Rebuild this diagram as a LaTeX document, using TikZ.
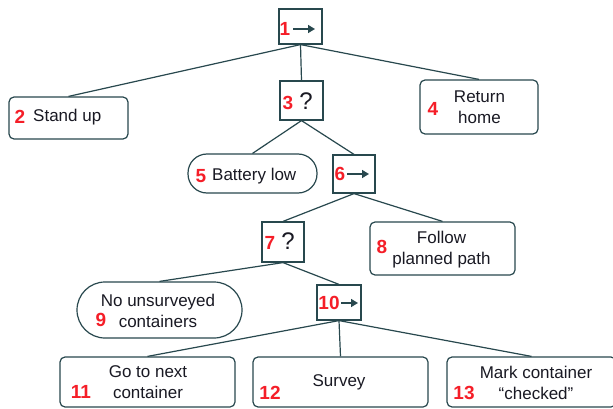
\documentclass[tikz,border=0pt]{standalone}
\usepackage{fontspec}
\setmainfont{Liberation Sans}
\usetikzlibrary{arrows.meta}
\definecolor{edgecol}{RGB}{40,72,78}
\definecolor{numred}{RGB}{245,30,40}
\definecolor{txtcol}{RGB}{25,25,35}
\begin{document}
\begin{tikzpicture}[x=1pt,y=-1pt,
  box/.style={draw=edgecol,line width=1.2pt,rounded corners=5pt,inner sep=0pt},
  ctl/.style={draw=edgecol,line width=1.2pt,inner sep=0pt},
  cond/.style={draw=edgecol,line width=1.2pt,rounded corners=19pt,inner sep=0pt},
  txt/.style={font=\fontsize{17}{21}\selectfont,align=center,inner sep=0pt,text=txtcol},
  num/.style={font=\fontsize{19}{21}\selectfont\bfseries,text=numred,inner sep=0pt},
  qm/.style={font=\fontsize{24}{24}\selectfont,inner sep=0pt,text=txtcol},
  link/.style={draw=edgecol,line width=1.2pt},
  seqarrow/.style={draw=edgecol,line width=1.5pt,-{Triangle[length=7pt,width=8pt]}}]
\path[fill=white] (0,0) rectangle (613,409);
\useasboundingbox (0,0) rectangle (613,409);

% boxes
\node[ctl,minimum width=43pt,minimum height=35pt] (n1) at (300.5,26.5) {};
\node[box,minimum width=119pt,minimum height=42pt] (n2) at (68.5,118) {};
\node[ctl,minimum width=43pt,minimum height=39pt] (n3) at (301.5,100.5) {};
\node[box,minimum width=118pt,minimum height=54pt] (n4) at (479,107) {};
\node[cond,minimum width=129pt,minimum height=39pt] (n5) at (252.5,173.5) {};
\node[ctl,minimum width=42pt,minimum height=38pt] (n6) at (354,174) {};
\node[ctl,minimum width=42pt,minimum height=40pt] (n7) at (283,242) {};
\node[box,minimum width=145pt,minimum height=53pt] (n8) at (442.5,248.5) {};
\node[cond,rounded corners=28pt,minimum width=165pt,minimum height=56pt] (n9) at (159.5,310) {};
\node[ctl,minimum width=44pt,minimum height=35pt] (n10) at (339,302.5) {};
\node[box,minimum width=175pt,minimum height=50pt] (n11) at (147.5,382) {};
\node[box,minimum width=175pt,minimum height=50pt] (n12) at (340.5,382) {};
\node[box,minimum width=169pt,minimum height=50pt] (n13) at (531.5,382) {};

% connectors
\draw[link] (n1.south) -- (n2.north);
\draw[link] (n1.south) -- (n3.north);
\draw[link] (n1.south) -- (n4.north);
\draw[link] (n3.south) -- (n5.north);
\draw[link] (n3.south) -- (n6.north);
\draw[link] (n6.south) -- (n7.north);
\draw[link] (n6.south) -- (n8.north);
\draw[link] (n7.south) -- (n9.north);
\draw[link] (n7.south) -- (n10.north);
\draw[link] (n10.south) -- (n11.north);
\draw[link] (n10.south) -- (n12.north);
\draw[link] (n10.south) -- (n13.north);

% control-node glyphs
\node[num] (l1) at (285,29) {1};
\coordinate (a1s) at (293,29); \coordinate (a1e) at (315,29);
\draw[seqarrow] (a1s) -- (a1e);
\node[num] (l3) at (288,103) {3};
\node[qm] (q3) at (306,101) {?};
\node[num] (l6) at (340,174) {6};
\coordinate (a6s) at (347,174); \coordinate (a6e) at (369,174);
\draw[seqarrow] (a6s) -- (a6e);
\node[num] (l7) at (270,243) {7};
\node[qm] (q7) at (288,241) {?};
\node[num] (l10) at (329,303) {10};
\coordinate (a10s) at (341,303); \coordinate (a10e) at (358,303);
\draw[seqarrow] (a10s) -- (a10e);

% leaf labels
\node[num] (l2) at (20,117) {2};
\node[txt,anchor=west] (t2) at (33,117.5) {Stand up};
\node[num] (l4) at (433,109) {4};
\node[txt] (t4) at (479.5,107) {Return\\home};
\node[num] (l5) at (201,176) {5};
\node[txt,anchor=west] (t5) at (212,176.5) {Battery low};
\node[num] (l8) at (382,247) {8};
\node[txt] (t8) at (441.5,249.5) {Follow\\planned path};
\node[num] (l9) at (101,320) {9};
\node[txt] (t9) at (158,310.5) {No unsurveyed\\containers};
\node[num] (l11) at (81,392) {11};
\node[txt] (t11) at (148,382.5) {Go to next\\container};
\node[num] (l12) at (270,393) {12};
\node[txt] (t12) at (339,382.5) {Survey};
\node[num] (l13) at (464,393) {13};
\node[txt] (t13) at (536,382.5) {Mark container\\“checked”};
\end{tikzpicture}
\end{document}
